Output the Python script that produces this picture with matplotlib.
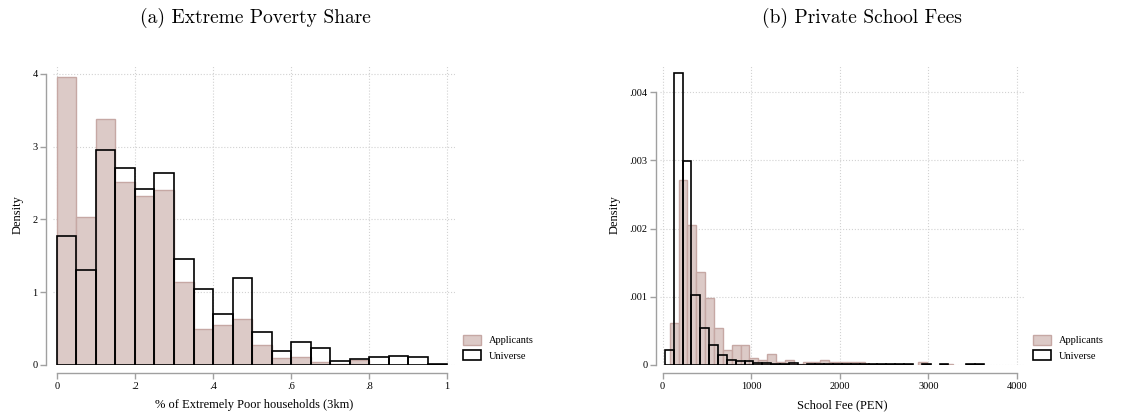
import numpy as np
import matplotlib.pyplot as plt
from matplotlib.patches import Patch

# Panel (a): share of extremely poor households within 3km, bins of 0.05
pov_edges = np.round(np.arange(0, 1.0001, 0.05), 2)
pov_applicants = [3.95, 2.03, 3.38, 2.51, 2.32, 2.40, 1.14, 0.50, 0.55, 0.63,
                  0.27, 0.09, 0.11, 0.045, 0.02, 0.07, 0.0, 0.0, 0.0, 0.0]
pov_universe = [1.77, 1.31, 2.95, 2.71, 2.42, 2.64, 1.45, 1.05, 0.70, 1.19,
                0.46, 0.19, 0.32, 0.24, 0.06, 0.085, 0.105, 0.12, 0.105, 0.01]

# Panel (b): private school monthly fee, bins of 100 PEN
fee_app_start = 80
fee_applicants = [0.00061, 0.00271, 0.00205, 0.00136, 0.00098, 0.00054, 0.00022,
                  0.00029, 0.00029, 0.00010, 0.00008, 0.00016, 0.00004, 0.00007,
                  0.00002, 0.00005, 0.00005, 0.00007, 0.00004, 0.00004, 0.00004,
                  0.00005, 0.00002, 0.00001, 0.00002, 0.00002, 0.0, 0.0,
                  0.00004, 0.0, 0.0, 0.00001]
fee_uni_start = 25
fee_universe = [0.00022, 0.00428, 0.00299, 0.00102, 0.000545, 0.00029, 0.000142,
                0.000074, 0.000054, 0.000064, 0.000034, 0.000034, 0.000015,
                0.000015, 0.000025, 0.000005, 0.000015, 0.000015, 0.00001,
                0.00001, 0.00001, 0.00001, 0.00001, 0.00001, 0.00001, 0.00001,
                0.00001, 0.00001, 0.0, 0.00001, 0.0, 0.00001, 0.0, 0.0,
                0.00001, 0.00001]

pink = '#dccac7'
pink_edge = '#c6a8a4'
serif = ['Liberation Serif', 'DejaVu Serif']

fig = plt.figure(figsize=(11.38, 4.16), dpi=100)
W, H = 1138, 416


def style(ax, xticks, xlabels, yticks, ylabels, xlabel, left_out):
    ax.grid(True, ls=':', color='#d2d2d2', lw=0.8)
    ax.set_axisbelow(True)
    for s in ['top', 'right']:
        ax.spines[s].set_visible(False)
    ax.spines['left'].set_position(('outward', left_out))
    ax.spines['bottom'].set_position(('outward', 6))
    ax.spines['left'].set_bounds(yticks[0], yticks[-1])
    ax.spines['bottom'].set_bounds(xticks[0], xticks[-1])
    for s in ['left', 'bottom']:
        ax.spines[s].set_color('#a0a0a0')
        ax.spines[s].set_linewidth(1.0)
    ax.set_xticks(xticks)
    ax.set_xticklabels(xlabels, fontfamily=serif, fontsize=7.5)
    ax.set_yticks(yticks)
    ax.set_yticklabels(ylabels, fontfamily=serif, fontsize=7.5)
    ax.tick_params(length=4, width=1.0, color='#a0a0a0', pad=2)
    ax.set_xlabel(xlabel, fontfamily=serif, fontsize=9, labelpad=6)
    ax.set_ylabel('Density', fontfamily=serif, fontsize=9, labelpad=6)
    handles = [Patch(facecolor=pink, edgecolor=pink_edge, label='Applicants'),
               Patch(facecolor='white', edgecolor='black', lw=1.2, label='Universe')]
    ax.legend(handles=handles, loc='lower left', bbox_to_anchor=(1.01, 0.0),
              frameon=False, prop={'family': serif, 'size': 7.5},
              handlelength=1.7, handleheight=1.1, borderaxespad=0)


def draw(ax, start, width, heights, **kw):
    h = np.array(heights)
    left = start + width * np.arange(len(h))
    keep = h > 0
    ax.bar(left[keep], h[keep], width=width, align='edge', **kw)


# (a) Extreme Poverty Share
ax1 = fig.add_axes([53 / W, 51 / H, 402 / W, 300 / H])
draw(ax1, 0.0, 0.05, pov_applicants, color=pink, edgecolor=pink_edge, lw=1.0)
draw(ax1, 0.0, 0.05, pov_universe, facecolor='none', edgecolor='black', lw=1.2)
ax1.set_xlim(-0.01, 1.02)
ax1.set_ylim(0, 4.12)
style(ax1, [0, 0.2, 0.4, 0.6, 0.8, 1], ['0', '.2', '.4', '.6', '.8', '1'],
      [0, 1, 2, 3, 4], ['0', '1', '2', '3', '4'],
      '% of Extremely Poor households (3km)', 5)

# (b) Private School Fees
ax2 = fig.add_axes([660 / W, 51 / H, 365 / W, 300 / H])
draw(ax2, fee_app_start, 100, fee_applicants, color=pink, edgecolor=pink_edge, lw=1.0)
draw(ax2, fee_uni_start, 100, fee_universe, facecolor='none', edgecolor='black', lw=1.2)
ax2.set_xlim(-30, 4090)
ax2.set_ylim(0, 0.0044)
style(ax2, [0, 1000, 2000, 3000, 4000], ['0', '1000', '2000', '3000', '4000'],
      [0, 0.001, 0.002, 0.003, 0.004], ['0', '.001', '.002', '.003', '.004'],
      'School Fee (PEN)', 3)

fig.text(255 / W, 1 - 18 / H, '(a) Extreme Poverty Share', ha='center', va='center',
         fontfamily='cmr10', fontsize=14)
fig.text(862 / W, 1 - 18 / H, '(b) Private School Fees', ha='center', va='center',
         fontfamily='cmr10', fontsize=14)

fig.savefig('out.png', dpi=100)
